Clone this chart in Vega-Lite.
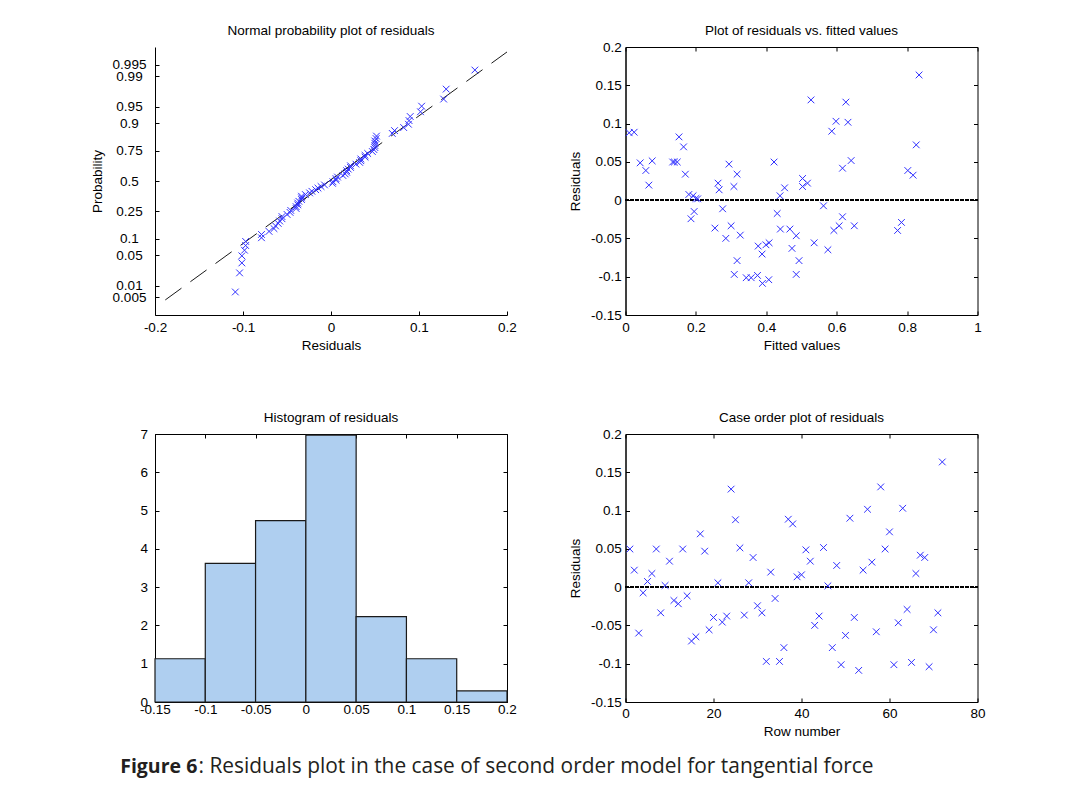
{
  "$schema": "https://vega.github.io/schema/vega-lite/v6.json",
  "background": "white",
  "autosize": {"type": "pad"},
  "padding": {"left": 90, "top": 23, "right": 5, "bottom": 5},
  "config": {
    "font": "Liberation Sans",
    "view": {"stroke": "#000", "strokeWidth": 1},
    "title": {"font": "Liberation Sans", "fontSize": 13.5, "fontWeight": "normal", "color": "#000", "offset": 10},
    "axis": {
      "labelFont": "Liberation Sans", "labelFontSize": 13.5, "labelColor": "#000",
      "titleFont": "Liberation Sans", "titleFontSize": 13.5, "titleFontWeight": "normal", "titleColor": "#000",
      "domain": true, "domainColor": "#000", "domainWidth": 1, "ticks": true, "tickColor": "#000", "tickWidth": 1, "tickSize": -4,
      "grid": false, "labelFlush": false, "labelOverlap": false, "labelPadding": 8
    }
  },
  "datasets": {
    "resid": [
      {"row":1,"fitted":0.134,"res":0.0498},{"row":2,"fitted":0.263,"res":0.0222},{"row":3,"fitted":0.377,"res":-0.060},
      {"row":4,"fitted":0.5625,"res":-0.0074},{"row":5,"fitted":0.18,"res":0.0074},{"row":6,"fitted":0.308,"res":0.0178},
      {"row":7,"fitted":0.139,"res":0.0498},{"row":8,"fitted":0.30,"res":-0.0335},{"row":9,"fitted":0.2,"res":0.0022},
      {"row":10,"fitted":0.170,"res":0.0339},{"row":11,"fitted":0.431,"res":-0.0174},{"row":12,"fitted":0.6165,"res":-0.0217},
      {"row":13,"fitted":0.147,"res":0.0498},{"row":14,"fitted":0.276,"res":-0.0113},{"row":15,"fitted":0.388,"res":-0.0704},
      {"row":16,"fitted":0.575,"res":-0.0648},{"row":17,"fitted":0.165,"res":0.0696},{"row":18,"fitted":0.294,"res":0.047},
      {"row":19,"fitted":0.408,"res":-0.0557},{"row":20,"fitted":0.592,"res":-0.0396},{"row":21,"fitted":0.439,"res":0.0057},
      {"row":22,"fitted":0.326,"res":-0.0457},{"row":23,"fitted":0.44,"res":-0.0378},{"row":24,"fitted":0.626,"res":0.128},
      {"row":25,"fitted":0.0104,"res":0.088},{"row":26,"fitted":0.0758,"res":0.0513},{"row":27,"fitted":0.254,"res":-0.0365},
      {"row":28,"fitted":0.192,"res":0.0057},{"row":29,"fitted":0.0578,"res":0.0387},{"row":30,"fitted":0.186,"res":-0.0243},
      {"row":31,"fitted":0.607,"res":-0.0335},{"row":32,"fitted":0.309,"res":-0.097},{"row":33,"fitted":0.0663,"res":0.0196},
      {"row":34,"fitted":0.195,"res":-0.0148},{"row":35,"fitted":0.485,"res":-0.097},{"row":36,"fitted":0.317,"res":-0.079},
      {"row":37,"fitted":0.0246,"res":0.0887},{"row":38,"fitted":0.152,"res":0.0826},{"row":39,"fitted":0.266,"res":0.0135},
      {"row":40,"fitted":0.452,"res":0.0161},{"row":41,"fitted":0.0417,"res":0.0487},{"row":42,"fitted":0.317,"res":0.0339},
      {"row":43,"fitted":0.285,"res":-0.0499},{"row":44,"fitted":0.467,"res":-0.0378},{"row":45,"fitted":0.641,"res":0.0517},
      {"row":46,"fitted":0.205,"res":0.0017},{"row":47,"fitted":0.493,"res":-0.079},{"row":48,"fitted":0.503,"res":0.0283},
      {"row":49,"fitted":0.343,"res":-0.1013},{"row":50,"fitted":0.473,"res":-0.063},{"row":51,"fitted":0.586,"res":0.090},
      {"row":52,"fitted":0.773,"res":-0.0396},{"row":53,"fitted":0.389,"res":-0.1087},{"row":54,"fitted":0.517,"res":0.0222},
      {"row":55,"fitted":0.632,"res":0.1017},{"row":56,"fitted":0.817,"res":0.0326},{"row":57,"fitted":0.399,"res":-0.0583},
      {"row":58,"fitted":0.527,"res":0.1309},{"row":59,"fitted":0.422,"res":0.0498},{"row":60,"fitted":0.826,"res":0.0722},
      {"row":61,"fitted":0.357,"res":-0.1013},{"row":62,"fitted":0.485,"res":-0.0465},{"row":63,"fitted":0.598,"res":0.103},
      {"row":64,"fitted":0.784,"res":-0.0291},{"row":65,"fitted":0.375,"res":-0.0983},{"row":66,"fitted":0.503,"res":0.0178},
      {"row":67,"fitted":0.6165,"res":0.0417},{"row":68,"fitted":0.802,"res":0.0387},{"row":69,"fitted":0.407,"res":-0.1039},
      {"row":70,"fitted":0.536,"res":-0.0557},{"row":71,"fitted":0.65,"res":-0.0335},{"row":72,"fitted":0.834,"res":0.1635}
    ],
    "normal": [
      {"res":-0.1087,"z":-2.4596},{"res":-0.1039,"z":-2.0365},{"res":-0.1013,"z":-1.8156},{"res":-0.1013,"z":-1.6585},
      {"res":-0.0983,"z":-1.5341},{"res":-0.097,"z":-1.4297},{"res":-0.097,"z":-1.3390},{"res":-0.079,"z":-1.2581},
      {"res":-0.079,"z":-1.1848},{"res":-0.0704,"z":-1.1173},{"res":-0.0648,"z":-1.0545},{"res":-0.063,"z":-0.9956},
      {"res":-0.060,"z":-0.9400},{"res":-0.0583,"z":-0.8871},{"res":-0.0557,"z":-0.8367},{"res":-0.0557,"z":-0.7882},
      {"res":-0.0499,"z":-0.7416},{"res":-0.0465,"z":-0.6965},{"res":-0.0457,"z":-0.6528},{"res":-0.0396,"z":-0.6103},
      {"res":-0.0396,"z":-0.5689},{"res":-0.0378,"z":-0.5284},{"res":-0.0378,"z":-0.4888},{"res":-0.0365,"z":-0.4499},
      {"res":-0.0335,"z":-0.4117},{"res":-0.0335,"z":-0.3741},{"res":-0.0335,"z":-0.3370},{"res":-0.0291,"z":-0.3004},
      {"res":-0.0243,"z":-0.2641},{"res":-0.0217,"z":-0.2283},{"res":-0.0174,"z":-0.1927},{"res":-0.0148,"z":-0.1573},
      {"res":-0.0113,"z":-0.1222},{"res":-0.0074,"z":-0.0872},{"res":0.0017,"z":-0.0522},{"res":0.0022,"z":-0.0174},
      {"res":0.0057,"z":0.0174},{"res":0.0057,"z":0.0522},{"res":0.0074,"z":0.0872},{"res":0.0135,"z":0.1222},
      {"res":0.0161,"z":0.1573},{"res":0.0178,"z":0.1927},{"res":0.0178,"z":0.2283},{"res":0.0196,"z":0.2641},
      {"res":0.0222,"z":0.3004},{"res":0.0222,"z":0.3370},{"res":0.0283,"z":0.3741},{"res":0.0326,"z":0.4117},
      {"res":0.0339,"z":0.4499},{"res":0.0339,"z":0.4888},{"res":0.0387,"z":0.5284},{"res":0.0387,"z":0.5689},
      {"res":0.0417,"z":0.6103},{"res":0.047,"z":0.6528},{"res":0.0487,"z":0.6965},{"res":0.0498,"z":0.7416},
      {"res":0.0498,"z":0.7882},{"res":0.0498,"z":0.8367},{"res":0.0498,"z":0.8871},{"res":0.0513,"z":0.9400},
      {"res":0.0517,"z":0.9956},{"res":0.0696,"z":1.0545},{"res":0.0722,"z":1.1173},{"res":0.0826,"z":1.1848},
      {"res":0.088,"z":1.2581},{"res":0.0887,"z":1.3390},{"res":0.090,"z":1.4297},{"res":0.1017,"z":1.5341},
      {"res":0.103,"z":1.6585},{"res":0.128,"z":1.8156},{"res":0.1309,"z":2.0365},{"res":0.1635,"z":2.4596}
    ],
    "fitline": [{"res": -0.1883, "z": -2.636}, {"res": 0.2, "z": 2.86}],
    "fitmid": [{"res": -0.046, "z": -0.622}, {"res": 0.048, "z": 0.708}],
    "hist": [
      {"lo": -0.15, "hi": -0.1, "density": 1.13},
      {"lo": -0.1, "hi": -0.05, "density": 3.62},
      {"lo": -0.05, "hi": 0, "density": 4.74},
      {"lo": 0, "hi": 0.05, "density": 6.97},
      {"lo": 0.05, "hi": 0.1, "density": 2.23},
      {"lo": 0.1, "hi": 0.15, "density": 1.13},
      {"lo": 0.15, "hi": 0.2, "density": 0.29}
    ]
  },
  "columns": 2,
  "spacing": {"row": 119, "column": 118.5},
  "bounds": "flush",
  "concat": [
    {
      "width": 352, "height": 268,
      "title": "Normal probability plot of residuals",
      "view": {"stroke": null},
      "encoding": {
        "x": {"field": "res", "type": "quantitative", "scale": {"domain": [-0.2, 0.2], "nice": false, "zero": false},
              "axis": {"title": "Residuals", "values": [-0.2, -0.1, 0, 0.1, 0.2], "labelExpr": "toString(datum.value)", "labelPadding": 9.5, "titlePadding": 4,
                       "domain": true, "domainColor": "#000", "ticks": true, "tickSize": -4, "labelOverlap": false}},
        "y": {"field": "z", "type": "quantitative", "scale": {"domain": [-2.97, 2.97], "nice": false, "zero": false},
              "axis": {"title": "Probability", "values": [-2.5758, -2.3263, -1.6449, -1.2816, -0.6745, 0, 0.6745, 1.2816, 1.6449, 2.3263, 2.5758],
                       "labelExpr": "format(cumulativeNormal(datum.value), '.3~g')", "labelAlign": "center", "labelPadding": 30, "titlePadding": 8,
                       "domain": true, "domainColor": "#000", "ticks": true, "tickSize": -4, "labelOverlap": false}}
      },
      "layer": [
        {
          "data": {"name": "fitline"},
          "mark": {"type": "line", "color": "#1a1a1a", "strokeWidth": 1, "strokeDash": [20, 11]}
        },
        {
          "data": {"name": "fitmid"},
          "mark": {"type": "line", "color": "#1a1a1a", "strokeWidth": 1}
        },
        {
          "data": {"name": "normal"},
          "mark": {"type": "point", "shape": "M-1,-1L1,1M-1,1L1,-1", "filled": false, "color": "#2f2fff", "size": 45, "strokeWidth": 1, "opacity": 1}
        }
      ]
    },
    {
      "width": 352, "height": 268,
      "title": {"text": "Plot of residuals vs. fitted values", "offset": 3},
      "data": {"name": "resid"},
      "layer": [
        {
          "mark": {"type": "rule", "strokeDash": [3, 2], "color": "#000", "strokeWidth": 1},
          "encoding": {
            "x": {"datum": 0, "type": "quantitative", "axis": {"orient": "top", "labels": false, "title": null, "domain": false, "values": [0, 0.2, 0.4, 0.6, 0.8, 1]}},
            "x2": {"datum": 1},
            "y": {"datum": 0, "type": "quantitative", "axis": {"orient": "right", "labels": false, "title": null, "domain": false, "values": [-0.15, -0.1, -0.05, 0, 0.05, 0.1, 0.15, 0.2]}}
          }
        },
        {
          "mark": {"type": "point", "shape": "M-1,-1L1,1M-1,1L1,-1", "filled": false, "color": "#2f2fff", "size": 45, "strokeWidth": 1, "opacity": 1},
          "encoding": {
            "x": {"field": "fitted", "type": "quantitative", "scale": {"domain": [0, 1], "nice": false, "zero": false},
                  "axis": {"orient": "bottom", "title": "Fitted values", "values": [0, 0.2, 0.4, 0.6, 0.8, 1], "labelExpr": "toString(datum.value)", "labelPadding": 9.5, "titlePadding": 4, "labelOverlap": false}},
            "y": {"field": "res", "type": "quantitative", "scale": {"domain": [-0.15, 0.2], "nice": false, "zero": false},
                  "axis": {"orient": "left", "title": "Residuals", "values": [-0.15, -0.1, -0.05, 0, 0.05, 0.1, 0.15, 0.2], "labelExpr": "toString(datum.value)", "labelPadding": 8.3, "titlePadding": 8, "labelOverlap": false}}
          }
        }
      ],
      "resolve": {"axis": {"x": "independent", "y": "independent"}}
    },
    {
      "width": 352, "height": 268,
      "title": {"text": "Histogram of residuals", "offset": 3},
      "data": {"name": "hist"},
      "layer": [
        {
          "mark": {"type": "rect", "fill": "#afcff0", "stroke": "#1a1a1a", "strokeWidth": 1.2},
          "encoding": {
            "x": {"field": "lo", "type": "quantitative", "scale": {"domain": [-0.15, 0.2], "nice": false, "zero": false},
                  "axis": {"orient": "bottom", "values": [-0.15, -0.1, -0.05, 0, 0.05, 0.1, 0.15, 0.2], "labelExpr": "toString(datum.value)", "labelPadding": 4, "labelOverlap": false,
                           "title": "Figure 6", "titleFont": "Open Sans", "titleFontSize": 19.5, "titleFontWeight": "bold", "titleColor": "#231f20",
                           "titleX": -35.3, "titleY": 70.7, "titleAlign": "left", "titleBaseline": "alphabetic", "titleAngle": 0}},
            "x2": {"field": "hi"},
            "y": {"field": "density", "type": "quantitative", "scale": {"domain": [0, 7], "nice": false},
                  "axis": {"orient": "left", "values": [0, 1, 2, 3, 4, 5, 6, 7], "labelExpr": "toString(datum.value)", "labelPadding": 11.5, "labelOverlap": false,
                           "title": ": Residuals plot in the case of second order model for tangential force", "titleFont": "Open Sans", "titleFontSize": 20.9,
                           "titleFontWeight": "normal", "titleColor": "#231f20", "titleAngle": 0, "titleX": 43, "titleY": 338.7, "titleAlign": "left", "titleBaseline": "alphabetic"}},
            "y2": {"datum": 0}
          }
        },
        {
          "mark": {"type": "point", "opacity": 0},
          "encoding": {
            "x": {"field": "lo", "type": "quantitative", "axis": {"orient": "top", "labels": false, "title": null, "domain": false, "values": [-0.15, -0.1, -0.05, 0, 0.05, 0.1, 0.15, 0.2]}},
            "y": {"field": "density", "type": "quantitative", "axis": {"orient": "right", "labels": false, "title": null, "domain": false, "values": [0, 1, 2, 3, 4, 5, 6, 7]}}
          }
        }
      ],
      "resolve": {"axis": {"x": "independent", "y": "independent"}}
    },
    {
      "width": 352, "height": 268,
      "title": {"text": "Case order plot of residuals", "offset": 3},
      "data": {"name": "resid"},
      "layer": [
        {
          "mark": {"type": "rule", "strokeDash": [3, 2], "color": "#000", "strokeWidth": 1},
          "encoding": {
            "x": {"datum": 0, "type": "quantitative", "axis": {"orient": "top", "labels": false, "title": null, "domain": false, "values": [0, 20, 40, 60, 80]}},
            "x2": {"datum": 80},
            "y": {"datum": 0, "type": "quantitative", "axis": {"orient": "right", "labels": false, "title": null, "domain": false, "values": [-0.15, -0.1, -0.05, 0, 0.05, 0.1, 0.15, 0.2]}}
          }
        },
        {
          "mark": {"type": "point", "shape": "M-1,-1L1,1M-1,1L1,-1", "filled": false, "color": "#2f2fff", "size": 45, "strokeWidth": 1, "opacity": 1},
          "encoding": {
            "x": {"field": "row", "type": "quantitative", "scale": {"domain": [0, 80], "nice": false, "zero": false},
                  "axis": {"orient": "bottom", "title": "Row number", "values": [0, 20, 40, 60, 80], "labelExpr": "toString(datum.value)", "labelPadding": 8.5, "titlePadding": 4, "labelOverlap": false}},
            "y": {"field": "res", "type": "quantitative", "scale": {"domain": [-0.15, 0.2], "nice": false, "zero": false},
                  "axis": {"orient": "left", "title": "Residuals", "values": [-0.15, -0.1, -0.05, 0, 0.05, 0.1, 0.15, 0.2], "labelExpr": "toString(datum.value)", "labelPadding": 8.3, "titlePadding": 8, "labelOverlap": false}}
          }
        }
      ],
      "resolve": {"axis": {"x": "independent", "y": "independent"}}
    }
  ]
}
